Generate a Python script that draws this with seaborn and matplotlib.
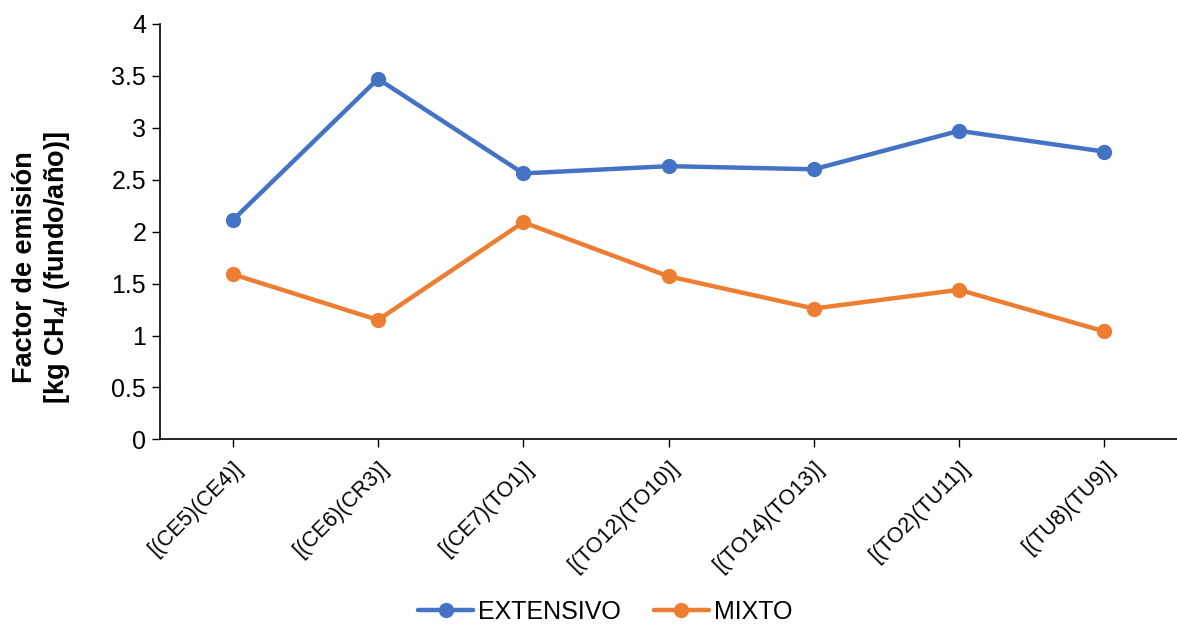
import matplotlib
matplotlib.use("Agg")
import matplotlib.pyplot as plt
import seaborn as sns
import pandas as pd

# Emission factors per farm pair
categories = ["[(CE5)(CE4)]", "[(CE6)(CR3)]", "[(CE7)(TO1)]", "[(TO12)(TO10)]",
              "[(TO14)(TO13)]", "[(TO2)(TU11)]", "[(TU8)(TU9)]"]
extensivo = [2.11, 3.47, 2.56, 2.63, 2.60, 2.97, 2.77]
mixto = [1.59, 1.15, 2.09, 1.57, 1.26, 1.44, 1.04]
series_names = ["EXTENSIVO", "MIXTO"]
colors = ["#4472C4", "#ED7D31"]
y_ticks = [0, 0.5, 1, 1.5, 2, 2.5, 3, 3.5, 4]

sns.set_theme(style="white")
plt.rcParams["font.family"] = ["Liberation Sans", "DejaVu Sans"]
plt.rcParams["mathtext.fontset"] = "custom"
plt.rcParams["mathtext.rm"] = "Liberation Sans"
plt.rcParams["mathtext.bf"] = "Liberation Sans:bold"
for key in ["text.color", "axes.labelcolor", "xtick.color", "ytick.color"]:
    plt.rcParams[key] = "black"

rows = []
for name, vals in zip(series_names, [extensivo, mixto]):
    for i, v in enumerate(vals):
        rows.append({"pos": i, "valor": v, "serie": name})
df = pd.DataFrame(rows)

fig = plt.figure(figsize=(11.77, 6.26), dpi=100)
ax = fig.add_axes([0.136, 0.298, 0.864, 0.664])

sns.lineplot(data=df, x="pos", y="valor", hue="serie", hue_order=series_names,
             palette=colors, marker="o", markersize=11, markeredgewidth=0,
             linewidth=3.2, ax=ax, legend=True)

ax.set_xlim(-0.5, len(categories) - 0.5)
ax.set_ylim(0, 4)
ax.set_yticks(y_ticks)
ax.set_yticklabels([f"{t:g}" for t in y_ticks], fontsize=18)
ax.set_xticks(range(len(categories)))
ax.set_xticklabels(categories, rotation=45, ha="right", rotation_mode="anchor",
                   fontsize=15.5)
ax.tick_params(axis="both", which="major", direction="out", length=6, width=1,
               color="black", labelcolor="black", left=True, bottom=True, pad=4)
ax.tick_params(axis="x", pad=7)

for side in ["top", "right"]:
    ax.spines[side].set_visible(False)
for side in ["left", "bottom"]:
    ax.spines[side].set_color("black")
    ax.spines[side].set_linewidth(1.2)

ax.set_xlabel("")
ax.set_ylabel("Factor de emisión\n[kg " + r"$\mathbf{CH_4}$" + "/ (fundo/año)]",
              fontsize=19.5, fontweight="bold", linespacing=1.15, color="black")
ax.yaxis.set_label_coords(-0.087, 0.414)

handles, labels = ax.get_legend_handles_labels()
leg = ax.legend(handles, labels, loc="center", bbox_to_anchor=(0.4376, -0.414),
                bbox_transform=ax.transAxes, ncol=2, frameon=False, fontsize=18,
                handlelength=2.2, handletextpad=0.2, columnspacing=1.3)
for t in leg.get_texts():
    t.set_color("black")

fig.savefig("out.png", dpi=100)
